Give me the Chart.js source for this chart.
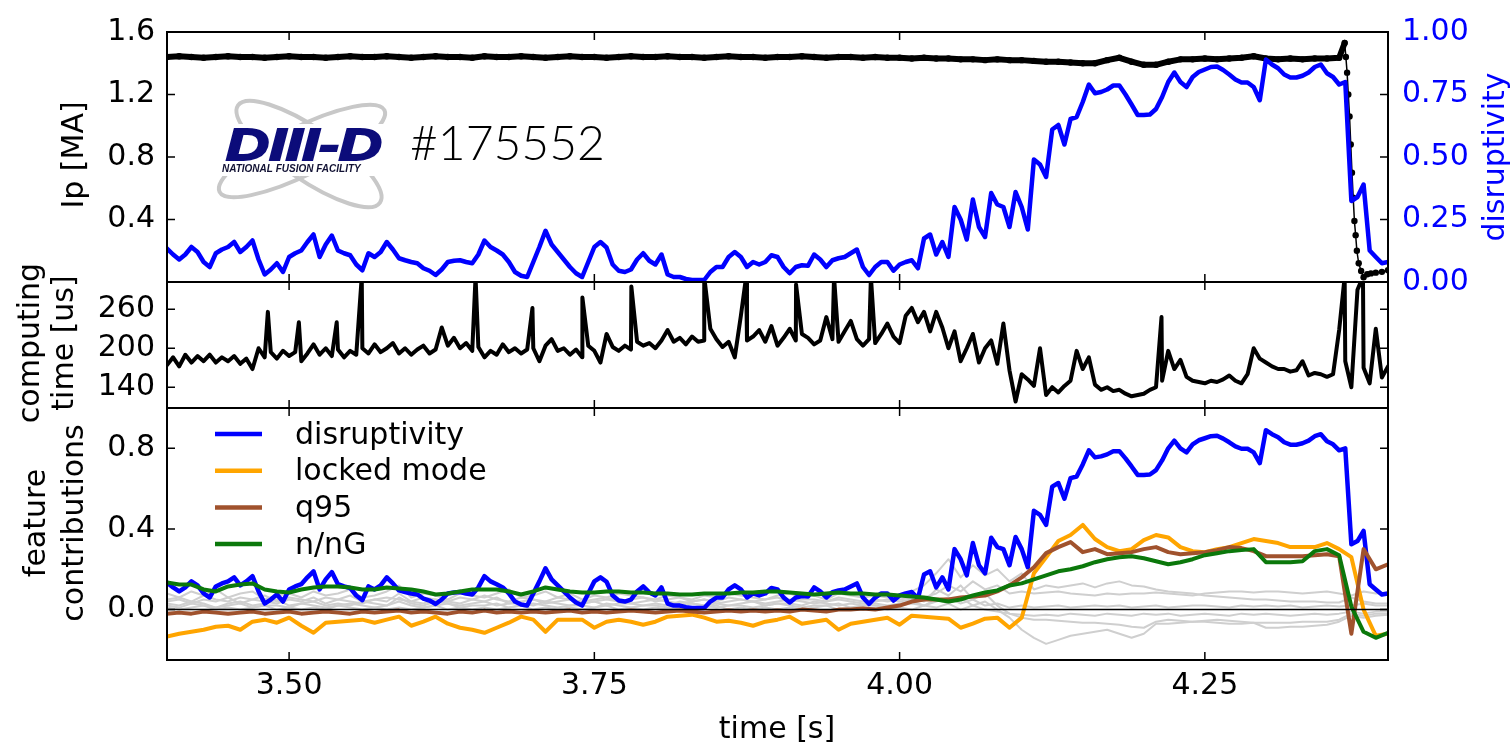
<!DOCTYPE html>
<html>
<head>
<meta charset="utf-8">
<title>DIII-D #175552 disruptivity</title>
<script src="https://cdn.jsdelivr.net/npm/chart.js@4.4.0/dist/chart.umd.min.js"></script>
<style>
  html, body { margin: 0; padding: 0; background: #fff; }
  #wrap { position: relative; width: 1512px; height: 742px; overflow: hidden; }
  #wrap canvas { position: absolute; left: 0; top: 0; }
</style>
</head>
<body>
<div id="wrap">
  <canvas id="topChart" width="1512" height="742"></canvas>
  <canvas id="midChart" width="1512" height="742"></canvas>
  <canvas id="botChart" width="1512" height="742"></canvas>
</div>
<script>
// ---- axes / ticks ----
const X_MIN = 3.40, X_MAX = 4.40;
const xTicks = [3.50, 3.75, 4.00, 4.25];
const xTickLabels = ['3.50', '3.75', '4.00', '4.25'];
const ipTicks = [0.4, 0.8, 1.2, 1.6];
const ipTickLabels = ['0.4', '0.8', '1.2', '1.6'];
const disTicks = [0, 0.25, 0.5, 0.75, 1.0];
const disTickLabels = ['0.00', '0.25', '0.50', '0.75', '1.00'];
const compTicks = [140, 200, 260];
const compTickLabels = ['140', '200', '260'];
const featTicks = [0, 0.4, 0.8];
const featTickLabels = ['0.0', '0.4', '0.8'];
const legendLabels = ['disruptivity', 'locked mode', 'q95', 'n/nG'];

// ---- data, 5 ms samples from 3.400 s ----
const disruptivity = [
  0.134,0.11,0.09,0.11,0.14,0.12,0.08,0.06,0.115,0.13,
  0.14,0.16,0.12,0.14,0.166,0.09,0.03,0.05,0.075,0.04,
  0.10,0.115,0.126,0.16,0.19,0.10,0.15,0.186,0.126,0.115,
  0.107,0.07,0.047,0.115,0.10,0.12,0.16,0.13,0.095,0.087,
  0.08,0.075,0.055,0.045,0.028,0.05,0.08,0.085,0.087,0.08,
  0.075,0.11,0.166,0.14,0.126,0.11,0.08,0.04,0.025,0.02,
  0.08,0.14,0.205,0.15,0.12,0.09,0.06,0.035,0.02,0.08,
  0.14,0.16,0.138,0.07,0.045,0.04,0.05,0.09,0.115,0.085,
  0.07,0.11,0.03,0.02,0.02,0.012,0.008,0.008,0.008,0.04,
  0.06,0.06,0.10,0.12,0.10,0.06,0.08,0.07,0.08,0.107,
  0.10,0.06,0.035,0.06,0.067,0.065,0.11,0.09,0.06,0.087,
  0.095,0.10,0.115,0.13,0.06,0.028,0.06,0.08,0.08,0.045,
  0.07,0.08,0.087,0.055,0.174,0.19,0.11,0.16,0.10,0.30,
  0.25,0.17,0.33,0.22,0.18,0.356,0.31,0.30,0.22,0.36,
  0.30,0.21,0.49,0.47,0.42,0.61,0.628,0.55,0.652,0.66,
  0.72,0.79,0.755,0.76,0.77,0.786,0.786,0.75,0.71,0.668,
  0.668,0.67,0.692,0.74,0.80,0.838,0.80,0.78,0.82,0.84,
  0.85,0.86,0.862,0.848,0.83,0.81,0.798,0.798,0.78,0.727,
  0.89,0.87,0.855,0.83,0.818,0.818,0.825,0.838,0.86,0.87,
  0.835,0.82,0.79,0.80,0.324,0.34,0.39,0.126,0.10,0.075,
  0.08
];

// computing time [us], same 5 ms samples
const computingTime = [
  174,186,172,190,178,188,180,190,178,186,
  180,188,176,184,168,200,186,194,184,196,
  188,194,180,192,206,190,200,188,198,186,
  196,190,200,192,206,194,200,208,192,200,
  190,198,204,192,198,232,204,216,200,208,
  196,202,186,196,190,206,194,200,192,198,
  200,180,204,214,196,200,190,198,186,204,
  196,178,222,202,196,204,198,210,204,208,
  200,212,228,210,216,206,218,210,212,230,
  214,202,210,186,250,212,218,228,210,234,
  204,216,230,212,222,216,206,212,248,214,
  210,226,242,214,204,214,208,222,238,218,
  208,250,262,240,256,226,256,232,200,226,
  180,200,222,178,200,212,176,238,166,118,
  160,152,142,200,128,140,132,142,150,196,
  168,186,144,136,140,134,136,130,126,128,
  130,136,140,150,196,168,182,156,150,148,
  146,150,148,152,158,150,146,160,200,184,
  178,172,168,168,164,166,180,158,162,160,
  156,160,228,180,140,290,170,146,230,155,
  172
];
// isolated computing-time spikes
const spikeTime  = [3.4826, 3.508, 3.539, 3.5595, 3.6527, 3.6993, 3.7402, 3.7803, 3.840, 3.8743, 3.9152, 3.9463, 3.9765, 4.2145, 4.3645, 4.3795];
const spikeValue = [256, 240, 240, 310, 310, 262, 278, 295, 310, 310, 298, 310, 310, 248, 310, 310];

// ---- data, 10 ms samples from 3.40 s ----
const ipBase = [
  1.44,1.445,1.44,1.435,1.44,1.445,1.44,1.44,1.435,1.44,
  1.445,1.44,1.44,1.435,1.44,1.445,1.44,1.44,1.445,1.44,
  1.435,1.44,1.445,1.44,1.44,1.435,1.445,1.44,1.44,1.445,
  1.44,1.435,1.44,1.445,1.44,1.44,1.435,1.44,1.445,1.44,
  1.44,1.445,1.44,1.44,1.435,1.44,1.445,1.44,1.44,1.435,
  1.44,1.44,1.445,1.44,1.435,1.44,1.44,1.435,1.44,1.435,
  1.435,1.43,1.435,1.43,1.43,1.425,1.425,1.42,1.425,1.42,
  1.42,1.415,1.41,1.41,1.405,1.40,1.40,1.42,1.435,1.41,
  1.39,1.39,1.41,1.425,1.425,1.43,1.425,1.43,1.435,1.445,
  1.43,1.425,1.43,1.425,1.43,1.43,1.435
];
// current quench
const quenchTime = [4.3645, 4.3655, 4.3665, 4.3675, 4.3685, 4.3695, 4.3705, 4.3715, 4.3725, 4.3735, 4.3745, 4.3760, 4.3780, 4.3800, 4.3830, 4.3860, 4.3900, 4.3950, 4.4000];
const quenchIp   = [1.53, 1.44, 1.34, 1.20, 1.06, 0.88, 0.70, 0.54, 0.39, 0.30, 0.20, 0.12, 0.07, 0.03, 0.05, 0.055, 0.06, 0.065, 0.075];

const lockedMode = [
  -0.134,-0.12,-0.11,-0.10,-0.085,-0.08,-0.10,-0.06,-0.05,-0.065,
  -0.04,-0.08,-0.115,-0.065,-0.06,-0.055,-0.05,-0.065,-0.05,-0.035,
  -0.08,-0.06,-0.035,-0.07,-0.09,-0.10,-0.115,-0.09,-0.065,-0.035,
  -0.05,-0.11,-0.05,-0.05,-0.05,-0.09,-0.06,-0.05,-0.06,-0.075,
  -0.06,-0.035,-0.03,-0.025,-0.04,-0.06,-0.055,-0.065,-0.08,-0.06,
  -0.05,-0.035,-0.07,-0.06,-0.05,-0.10,-0.07,-0.06,-0.05,-0.04,
  -0.075,-0.03,-0.035,-0.04,-0.045,-0.09,-0.07,-0.045,-0.04,-0.09,
  -0.04,0.18,0.26,0.34,0.37,0.42,0.35,0.31,0.29,0.30,
  0.345,0.37,0.358,0.31,0.29,0.285,0.30,0.31,0.33,0.35,
  0.34,0.33,0.31,0.31,0.31,0.33,0.30,0.26,0.0,-0.13,
  -0.12
];
const q95 = [
  -0.02,-0.015,-0.02,-0.01,-0.015,-0.02,-0.015,-0.01,-0.02,-0.015,
  -0.01,-0.02,-0.015,-0.01,-0.015,-0.02,-0.01,-0.015,-0.01,-0.005,
  -0.015,-0.01,-0.015,-0.02,-0.01,-0.015,-0.005,-0.015,-0.01,-0.015,
  -0.01,-0.015,-0.01,-0.005,-0.015,-0.01,-0.015,-0.01,-0.005,-0.01,
  -0.015,-0.01,-0.005,-0.01,-0.015,-0.01,-0.005,-0.01,-0.005,-0.01,
  -0.005,-0.01,0.0,-0.005,-0.01,0.0,0.0,0.005,0.0,0.01,
  0.02,0.04,0.05,0.05,0.05,0.06,0.065,0.07,0.09,0.12,
  0.16,0.21,0.28,0.31,0.335,0.285,0.30,0.275,0.28,0.285,
  0.30,0.31,0.285,0.275,0.28,0.285,0.295,0.31,0.305,0.29,
  0.265,0.265,0.265,0.265,0.27,0.275,0.265,-0.12,0.30,0.20,
  0.225
];
const nOverNG = [
  0.134,0.125,0.124,0.10,0.09,0.115,0.124,0.13,0.10,0.09,
  0.085,0.10,0.11,0.115,0.115,0.11,0.10,0.10,0.11,0.105,
  0.10,0.09,0.075,0.08,0.09,0.10,0.10,0.10,0.09,0.075,
  0.09,0.11,0.10,0.09,0.085,0.085,0.09,0.09,0.085,0.085,
  0.08,0.08,0.075,0.075,0.08,0.08,0.08,0.085,0.085,0.09,
  0.09,0.085,0.08,0.075,0.08,0.085,0.08,0.08,0.075,0.075,
  0.07,0.065,0.06,0.05,0.04,0.05,0.07,0.085,0.095,0.12,
  0.13,0.15,0.17,0.19,0.20,0.215,0.235,0.25,0.26,0.265,
  0.255,0.24,0.225,0.235,0.25,0.27,0.28,0.29,0.295,0.30,
  0.235,0.235,0.235,0.24,0.29,0.30,0.27,0.015,-0.11,-0.14,
  -0.115
];
// the remaining features (grey)
const otherFeatures = [
  [0.08,0.06,0.09,0.07,0.10,0.06,0.08,0.09,0.05,0.07,
   0.08,0.06,0.09,0.07,0.08,0.10,0.06,0.07,0.09,0.12,
   0.06,0.08,0.07,0.05,0.08,0.07,0.06,0.08,0.10,0.06,
   0.07,0.09,0.06,0.08,0.05,0.07,0.06,0.08,0.07,0.06,
   0.05,0.07,0.06,0.05,0.07,0.06,0.08,0.07,0.06,0.05,
   0.07,0.08,0.06,0.07,0.05,0.08,0.07,0.06,0.07,0.06,
   0.07,0.09,0.12,0.18,0.25,0.16,0.22,0.17,0.20,0.14,
   0.18,0.10,0.12,0.11,0.12,0.13,0.11,0.13,0.14,0.12,
   0.115,0.10,0.09,0.085,0.08,0.07,0.065,0.06,0.055,0.05,
   0.05,0.045,0.04,0.04,0.04,0.035,0.035,0.06,0.04,0.03,
   0.03],
  [0.04,0.05,0.03,0.05,0.04,0.06,0.03,0.05,0.04,0.03,
   0.05,0.04,0.06,0.03,0.05,0.04,0.03,0.05,0.04,0.08,
   0.04,0.03,0.05,0.04,0.03,0.05,0.04,0.06,0.03,0.04,
   0.05,0.03,0.04,0.05,0.03,0.04,0.05,0.04,0.03,0.04,
   0.05,0.04,0.03,0.04,0.05,0.03,0.04,0.05,0.04,0.03,
   0.04,0.05,0.04,0.03,0.04,0.05,0.04,0.03,0.04,0.05,
   0.04,0.05,0.06,0.08,0.12,0.09,0.14,0.10,0.12,0.08,
   0.09,0.08,0.085,0.09,0.08,0.075,0.07,0.08,0.075,0.08,
   0.08,0.085,0.08,0.075,0.07,0.08,0.085,0.09,0.09,0.085,
   0.09,0.09,0.085,0.08,0.085,0.09,0.08,0.07,0.09,0.08,
   0.085],
  [0.02,0.01,0.03,0.02,0.01,0.02,0.03,0.01,0.02,0.02,
   0.01,0.03,0.02,0.01,0.02,0.03,0.02,0.01,0.02,0.04,
   0.02,0.01,0.02,0.03,0.01,0.02,0.02,0.03,0.01,0.02,
   0.03,0.02,0.01,0.02,0.02,0.01,0.03,0.02,0.01,0.02,
   0.02,0.01,0.02,0.03,0.02,0.01,0.02,0.02,0.01,0.02,
   0.03,0.02,0.01,0.02,0.02,0.03,0.01,0.02,0.02,0.01,
   0.02,0.03,0.02,0.04,0.06,0.03,0.05,0.02,0.03,0.01,
   0.02,0.01,0.015,0.02,0.01,0.015,0.02,0.015,0.02,0.01,
   0.015,0.02,0.01,0.015,0.02,0.02,0.015,0.01,0.02,0.015,
   0.02,0.015,0.02,0.01,0.015,0.02,0.015,0.02,0.03,0.02,
   0.02],
  [0.05,0.06,0.04,0.07,0.05,0.04,0.06,0.05,0.07,0.04,
   0.06,0.05,0.04,0.06,0.05,0.07,0.04,0.05,0.06,0.05,
   0.04,0.06,0.05,0.04,0.06,0.05,0.07,0.05,0.04,0.06,
   0.05,0.04,0.06,0.05,0.04,0.05,0.06,0.04,0.05,0.06,
   0.04,0.05,0.06,0.04,0.05,0.04,0.06,0.05,0.04,0.05,
   0.06,0.04,0.05,0.05,0.04,0.06,0.05,0.04,0.05,0.04,
   0.05,0.06,0.04,0.10,0.07,0.12,0.05,0.08,0.02,-0.02,
   -0.04,-0.05,-0.05,-0.055,-0.06,-0.065,-0.065,-0.07,-0.075,-0.085,
   -0.09,-0.06,-0.05,-0.055,-0.06,-0.055,-0.05,-0.055,-0.06,-0.065,
   -0.09,-0.09,-0.085,-0.085,-0.08,-0.075,-0.06,-0.03,-0.04,-0.03,
   -0.025],
  [0.03,0.02,0.04,0.03,0.01,0.03,0.04,0.02,0.03,0.05,
   0.02,0.03,0.04,0.02,0.03,0.02,0.04,0.03,0.02,0.06,
   0.03,0.02,0.04,0.03,0.02,0.03,0.04,0.02,0.03,0.03,
   0.02,0.04,0.03,0.02,0.03,0.04,0.02,0.03,0.03,0.02,
   0.03,0.02,0.04,0.03,0.02,0.03,0.02,0.03,0.04,0.02,
   0.03,0.03,0.02,0.04,0.03,0.02,0.03,0.02,0.03,0.02,
   0.03,0.04,0.02,0.05,0.03,0.06,0.02,0.04,0.0,-0.04,
   -0.10,-0.14,-0.17,-0.15,-0.13,-0.12,-0.11,-0.10,-0.12,-0.14,
   -0.12,-0.07,-0.07,-0.065,-0.06,-0.06,-0.065,-0.07,-0.07,-0.065,
   -0.065,-0.065,-0.065,-0.06,-0.06,-0.06,-0.05,-0.02,-0.03,-0.02,
   -0.02],
  [0.01,0.0,0.01,0.02,0.0,0.01,0.0,0.01,0.02,0.0,
   0.01,0.0,0.01,0.0,0.02,0.01,0.0,0.01,0.0,0.01,
   0.0,0.01,0.02,0.0,0.01,0.0,0.01,0.0,0.01,0.02,
   0.0,0.01,0.0,0.01,0.0,0.01,0.02,0.0,0.01,0.0,
   0.01,0.0,0.01,0.0,0.01,0.02,0.0,0.01,0.0,0.01,
   0.0,0.01,0.0,0.01,0.02,0.0,0.01,0.0,0.01,0.0,
   0.01,0.0,0.02,0.01,0.03,0.0,0.02,0.0,-0.01,-0.02,
   -0.025,-0.03,-0.025,-0.03,-0.02,-0.025,-0.03,-0.02,-0.025,-0.03,
   -0.02,-0.025,-0.02,-0.03,-0.025,-0.02,-0.025,-0.03,-0.02,-0.025,
   -0.02,-0.025,-0.03,-0.025,-0.02,-0.025,-0.02,-0.01,-0.02,-0.01,
   -0.01]
];

// sample times
const tFine = disruptivity.map((_, i) => +(X_MIN + i * 0.005).toFixed(3));
const tCoarse = lockedMode.map((_, k) => +(X_MIN + k * 0.01).toFixed(2));
const pairs = (ts, vs) => vs.map((v, i) => ({ x: ts[i], y: v }));

const ipPoints = pairs(tCoarse, ipBase).concat(pairs(quenchTime, quenchIp));
const compPoints = pairs(tFine, computingTime)
  .concat(pairs(spikeTime, spikeValue))
  .sort((a, b) => a.x - b.x);

// ---- common styling ----
const FONT = '"DejaVu Sans"';
Chart.defaults.font.family = FONT;
Chart.defaults.font.size = 30;
Chart.defaults.color = '#000';

const LEFT_W = 167, RIGHT_W = 124;
const fixWidth = (w) => (scale) => { scale.width = w; };
const useTicks = (values) => (scale) => { scale.ticks = values.map(v => ({ value: v })); };

function xScale(show) {
  const s = {
    type: 'linear', min: X_MIN, max: X_MAX, display: show,
    grid: { display: false, drawTicks: false }, border: { display: false },
    afterBuildTicks: useTicks(xTicks),
    ticks: { autoSkip: false, maxRotation: 0, padding: 8, callback: (v, i) => xTickLabels[i] }
  };
  if (show) s.afterFit = (sc) => { sc.height = 82; };
  return s;
}
function yScale(pos, min, max, ticks, labels, color) {
  return {
    type: 'linear', position: pos, min: min, max: max,
    grid: { display: false, drawTicks: false }, border: { display: false },
    afterBuildTicks: useTicks(ticks),
    afterFit: fixWidth(pos === 'left' ? LEFT_W : RIGHT_W),
    ticks: { autoSkip: false, padding: pos === 'left' ? 12 : 14, color: color || '#000',
             callback: (v, i) => labels[i] }
  };
}

// frame, inward tick marks, zero line
const framePlugin = {
  id: 'frame',
  afterDatasetsDraw(chart, args, opts) {
    const { ctx, chartArea: a, scales } = chart;
    ctx.save();
    ctx.strokeStyle = '#000';
    if (opts.zeroLine) {
      const y0 = scales.y.getPixelForValue(0);
      ctx.lineWidth = 1.5;
      ctx.beginPath(); ctx.moveTo(a.left, y0); ctx.lineTo(a.right, y0); ctx.stroke();
    }
    ctx.lineWidth = 1.5;
    ctx.beginPath();
    xTicks.forEach(v => {
      const x = scales.x.getPixelForValue(v);
      ctx.moveTo(x, a.top); ctx.lineTo(x, a.top + 8);
      ctx.moveTo(x, a.bottom); ctx.lineTo(x, a.bottom - 8);
    });
    opts.yTicks.forEach(spec => {
      const s = scales[spec.axis];
      s.ticks.forEach(t => {
        const y = s.getPixelForValue(t.value);
        if (spec.left) { ctx.moveTo(a.left, y); ctx.lineTo(a.left + 8, y); }
        if (spec.right) { ctx.moveTo(a.right, y); ctx.lineTo(a.right - 8, y); }
      });
    });
    ctx.stroke();
    ctx.lineWidth = 2;
    ctx.strokeRect(a.left, a.top, a.right - a.left, a.bottom - a.top);
    ctx.restore();
  }
};

// rotated axis titles
const titlePlugin = {
  id: 'titles',
  afterDraw(chart, args, opts) {
    const ctx = chart.ctx;
    opts.items.forEach(it => {
      ctx.save();
      ctx.translate(it.x, it.y);
      ctx.rotate(-Math.PI / 2);
      ctx.font = '30px ' + FONT;
      ctx.fillStyle = it.color || '#000';
      ctx.textAlign = 'center';
      ctx.textBaseline = 'middle';
      it.lines.forEach((line, j) => ctx.fillText(line, 0, (j - (it.lines.length - 1) / 2) * it.lh));
      ctx.restore();
    });
  }
};

// DIII-D logo and shot number
const logoPlugin = {
  id: 'logo',
  afterDraw(chart) {
    const ctx = chart.ctx;
    ctx.save();
    ctx.strokeStyle = '#c8c8c8';
    ctx.lineWidth = 4;
    ctx.beginPath(); ctx.ellipse(309, 154, 86, 26, 0.60, 0, 2 * Math.PI); ctx.stroke();
    ctx.beginPath(); ctx.ellipse(302, 151, 92, 24, -0.46, 0, 2 * Math.PI); ctx.stroke();
    ctx.fillStyle = '#fff';
    ctx.fillRect(219, 124, 170, 52);
    ctx.fillStyle = '#0c0c7a';
    ctx.strokeStyle = '#0c0c7a';
    ctx.font = 'italic bold 44px "Liberation Sans"';
    const w = ctx.measureText('DIII-D').width;
    ctx.save();
    ctx.translate(226, 160);
    ctx.scale(156 / w, 1);
    ctx.lineWidth = 2;
    ctx.fillText('DIII-D', 0, 0);
    ctx.strokeText('DIII-D', 0, 0);
    ctx.restore();
    ctx.fillStyle = '#111133';
    ctx.font = 'italic bold 10px "Liberation Sans"';
    ctx.fillText('NATIONAL FUSION FACILITY', 222, 172, 156);
    ctx.fillStyle = '#000';
    ctx.font = '300 48px Lato';
    ctx.fillText('#175552', 410, 160);
    ctx.restore();
  }
};

// legend inside the lower panel
const legendPlugin = {
  id: 'insetLegend',
  afterDraw(chart, args, opts) {
    const ctx = chart.ctx;
    ctx.save();
    ctx.font = '30px ' + FONT;
    ctx.textBaseline = 'middle';
    ctx.fillStyle = '#000';
    legendLabels.forEach((label, i) => {
      const ds = chart.data.datasets.find(d => d.label === label);
      const y = opts.top + i * opts.gap;
      ctx.strokeStyle = ds.borderColor;
      ctx.lineWidth = 4.5;
      ctx.beginPath(); ctx.moveTo(opts.x0, y); ctx.lineTo(opts.x1, y); ctx.stroke();
      ctx.fillText(label, opts.textX, y + 2);
    });
    ctx.restore();
  }
};

const baseOptions = {
  responsive: false,
  animation: false,
  events: [],
  elements: { line: { borderJoinStyle: 'round', borderCapStyle: 'round', tension: 0 } }
};

// ---- top: plasma current and disruptivity ----
new Chart(document.getElementById('topChart'), {
  type: 'line',
  data: {
    datasets: [
      { label: 'disruptivity', data: pairs(tFine, disruptivity), yAxisID: 'yR',
        borderColor: '#0000ff', borderWidth: 4.5, pointRadius: 0, order: 1 },
      { label: 'Ip', data: ipPoints, yAxisID: 'yL',
        borderColor: '#000', backgroundColor: '#000', borderWidth: 6,
        pointRadius: 3.2, pointBorderWidth: 0, order: 2,
        segment: { borderWidth: c => (c.p0.parsed.x >= 4.364 ? 1.5 : 6) } }
    ]
  },
  options: Object.assign({}, baseOptions, {
    layout: { padding: { top: 29, bottom: 742 - 282, left: 0, right: 0 } },
    scales: {
      x: xScale(false),
      yL: yScale('left', 0, 1.6, ipTicks, ipTickLabels),
      yR: yScale('right', 0, 1.0, disTicks, disTickLabels, '#0000ff')
    },
    plugins: {
      legend: { display: false }, tooltip: { enabled: false },
      frame: { yTicks: [{ axis: 'yL', left: true }, { axis: 'yR', right: true }] },
      titles: { items: [
        { lines: ['Ip [MA]'], x: 75, y: 155, lh: 34 },
        { lines: ['disruptivity'], x: 1496, y: 157, lh: 34, color: '#0000ff' }
      ] }
    }
  }),
  plugins: [framePlugin, titlePlugin, logoPlugin]
});

// ---- middle: computing time ----
new Chart(document.getElementById('midChart'), {
  type: 'line',
  data: {
    datasets: [
      { label: 'computing time', data: compPoints, yAxisID: 'y',
        borderColor: '#000', borderWidth: 4, pointRadius: 0 }
    ]
  },
  options: Object.assign({}, baseOptions, {
    layout: { padding: { top: 282, bottom: 742 - 408, left: 0, right: RIGHT_W } },
    scales: {
      x: xScale(false),
      y: yScale('left', 108, 302, compTicks, compTickLabels)
    },
    plugins: {
      legend: { display: false }, tooltip: { enabled: false },
      frame: { yTicks: [{ axis: 'y', left: true, right: true }] },
      titles: { items: [{ lines: ['computing', 'time [us]'], x: 48, y: 343, lh: 34 }] }
    }
  }),
  plugins: [framePlugin, titlePlugin]
});

// ---- bottom: feature contributions ----
const greyDatasets = otherFeatures.map((vals, j) => ({
  label: 'feature ' + (j + 1), data: pairs(tCoarse, vals), yAxisID: 'y',
  borderColor: '#cfcfcf', borderWidth: 2, pointRadius: 0, order: 10
}));
new Chart(document.getElementById('botChart'), {
  type: 'line',
  data: {
    datasets: [
      { label: 'disruptivity', data: pairs(tFine, disruptivity), yAxisID: 'y',
        borderColor: '#0000ff', borderWidth: 4.5, pointRadius: 0, order: 4 },
      { label: 'locked mode', data: pairs(tCoarse, lockedMode), yAxisID: 'y',
        borderColor: '#ffa500', borderWidth: 4, pointRadius: 0, order: 3 },
      { label: 'q95', data: pairs(tCoarse, q95), yAxisID: 'y',
        borderColor: '#a0522d', borderWidth: 4, pointRadius: 0, order: 2 },
      { label: 'n/nG', data: pairs(tCoarse, nOverNG), yAxisID: 'y',
        borderColor: '#0b780b', borderWidth: 4, pointRadius: 0, order: 1 }
    ].concat(greyDatasets)
  },
  options: Object.assign({}, baseOptions, {
    layout: { padding: { top: 408, bottom: 0, left: 0, right: RIGHT_W } },
    scales: {
      x: xScale(true),
      y: yScale('left', -0.25, 1.0, featTicks, featTickLabels)
    },
    plugins: {
      legend: { display: false }, tooltip: { enabled: false },
      frame: { zeroLine: true, yTicks: [{ axis: 'y', left: true, right: true }] },
      titles: { items: [{ lines: ['feature', 'contributions'], x: 56, y: 523, lh: 38 }] },
      insetLegend: { top: 434, gap: 36.7, x0: 215, x1: 262, textX: 295 }
    }
  }),
  plugins: [framePlugin, titlePlugin, legendPlugin]
});

// x axis title
(function () {
  const c = document.getElementById('botChart');
  const ctx = c.getContext('2d');
  ctx.save();
  ctx.font = '30px ' + FONT;
  ctx.textAlign = 'center';
  ctx.textBaseline = 'alphabetic';
  ctx.fillStyle = '#000';
  ctx.fillText('time [s]', 777, 738);
  ctx.restore();
})();
</script>
</body>
</html>
